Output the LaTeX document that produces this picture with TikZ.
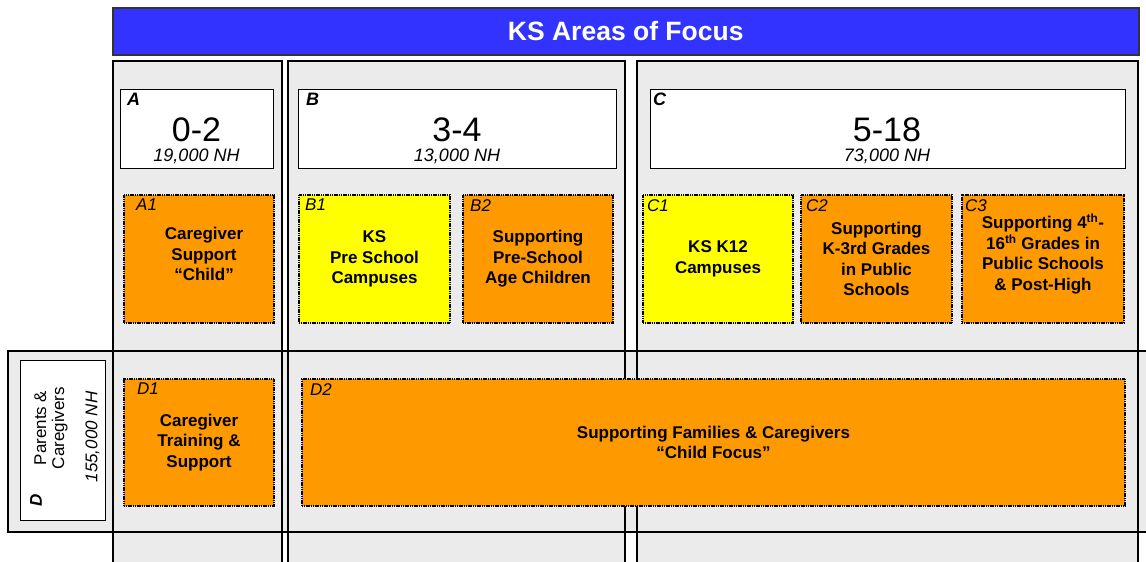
\documentclass[tikz,border=0pt]{standalone}
\usepackage{fontspec}
\setmainfont{Liberation Sans}
\newcommand\myfs[2]{\fontsize{#1}{#2}\selectfont}
\definecolor{ksblue}{HTML}{3333FF}
\definecolor{ksorange}{HTML}{FF9900}
\definecolor{ksyellow}{HTML}{FFFF00}
\definecolor{ksgray}{HTML}{EBEBEB}
\begin{document}
\begin{tikzpicture}[x=1pt,y=-1pt,
  colfill/.style={fill=ksgray},
  colline/.style={draw=black,line width=2.2pt},
  bandline/.style={draw=black,line width=1.6pt},
  hdrbox/.style={draw=black,line width=1.2pt,fill=white,anchor=north west,inner sep=0pt},
  itembox/.style={draw=black,line width=2pt,dash pattern=on 1.2pt off 0.6pt,anchor=center,inner sep=0pt,align=center,font=\myfs{17}{20.5}\bfseries},
  orangebox/.style={itembox,fill=ksorange},
  yellowbox/.style={itembox,fill=ksyellow},
  idlabel/.style={anchor=north west,inner sep=0pt,font=\myfs{17}{20}\itshape},
  hdrletter/.style={anchor=north west,inner sep=0pt,font=\myfs{18}{20}\bfseries\itshape},
  agetext/.style={inner sep=0pt,font=\myfs{34}{36}},
  nhtext/.style={inner sep=0pt,font=\myfs{18}{20}\itshape}
]
\useasboundingbox (0,0) rectangle (1146,562);
\clip (0,0) rectangle (1146,562);
\fill[white] (0,0) rectangle (1146,562);

% title bar
\node[draw=black!80,line width=1.5pt,fill=ksblue,anchor=north west,inner sep=0pt,
  minimum width=1026pt,minimum height=47pt,text=white,font=\myfs{26.5}{28}\bfseries]
  (title) at (112,7) {KS Areas of Focus};

% columns and band fills
\path[colfill] (113,61) rectangle (282,600);
\path[colfill] (288,61) rectangle (625,600);
\path[colfill] (637,61) rectangle (1138,600);
\path[colfill] (8,351) rectangle (1170,532);
% borders
\draw[colline] (113,61) rectangle (282,600);
\draw[colline] (288,61) rectangle (625,600);
\draw[colline] (637,61) rectangle (1138,600);
\draw[bandline] (8,351) rectangle (1170,532);

% header boxes
\node[hdrbox,minimum width=153pt,minimum height=79pt] (hA) at (120,89) {};
\node[hdrbox,minimum width=318pt,minimum height=79pt] (hB) at (298,89) {};
\node[hdrbox,minimum width=475pt,minimum height=79pt] (hC) at (650,89) {};
\node[hdrletter] (lA) at (127,93) {A};
\node[hdrletter] (lB) at (306,93) {B};
\node[hdrletter] (lC) at (653,93) {C};
\node[agetext] (aA) at (196.5,130) {0-2};
\node[agetext] (aB) at (457,130) {3-4};
\node[agetext] (aC) at (887,130) {5-18};
\node[nhtext] (nA) at (196.5,156) {19,000 NH};
\node[nhtext] (nB) at (457,156) {13,000 NH};
\node[nhtext] (nC) at (887,156) {73,000 NH};

% row 1 boxes
\node[orangebox,minimum width=150pt,minimum height=128pt] (A1) at (199,259) {};
\node[inner sep=0pt,align=center,font=\myfs{17}{20.5}\bfseries] (A1t) at (204,254) {Caregiver\\Support\\``Child''};
\node[idlabel] (A1l) at (136,199) {A1};

\node[yellowbox,minimum width=151pt,minimum height=128pt] (B1) at (374.5,259) {KS\\Pre School\\Campuses};
\node[idlabel] (B1l) at (305,199) {B1};

\node[orangebox,minimum width=150pt,minimum height=128pt] (B2) at (538,259) {Supporting\\Pre-School\\Age Children};
\node[idlabel] (B2l) at (470,199) {B2};

\node[yellowbox,minimum width=150pt,minimum height=128pt] (C1) at (718,259) {KS K12\\Campuses};
\node[idlabel] (C1l) at (647,199) {C1};

\node[orangebox,minimum width=151pt,minimum height=128pt] (C2) at (876.5,259) {Supporting\\K-3rd Grades\\in Public\\Schools};
\node[idlabel] (C2l) at (806,199) {C2};

\node[orangebox,minimum width=162pt,minimum height=128pt] (C3) at (1043,259) {};
\node[inner sep=0pt,align=center,font=\myfs{17}{20.5}\bfseries] (C3t) at (1043,254) {Supporting 4\textsuperscript{th}-\\16\textsuperscript{th} Grades in\\Public Schools\\\& Post-High};
\node[idlabel] (C3l) at (965,199) {C3};

% D row
\node[draw=black,line width=1.2pt,fill=white,anchor=north west,inner sep=0pt,
  minimum width=85pt,minimum height=160pt] (Dbox) at (20,360) {};
\node[rotate=90,inner sep=0pt,align=center,font=\myfs{17}{18}] (Dpar) at (51,428) {Parents \&\\Caregivers};
\node[rotate=90,inner sep=0pt,font=\myfs{17}{18}\itshape] (Dnh) at (92.5,437) {155,000 NH};
\node[rotate=90,inner sep=0pt,font=\myfs{17}{18}\bfseries\itshape] (Dl) at (36,500) {D};

\node[orangebox,minimum width=150pt,minimum height=127pt] (D1) at (199,442.5) {Caregiver\\Training \&\\Support};
\node[idlabel] (D1l) at (137,383) {D1};

\node[orangebox,minimum width=823pt,minimum height=127pt] (D2) at (713.5,442.5) {Supporting Families \& Caregivers\\``Child Focus''};
\node[idlabel] (D2l) at (310,383) {D2};
\end{tikzpicture}
\end{document}
